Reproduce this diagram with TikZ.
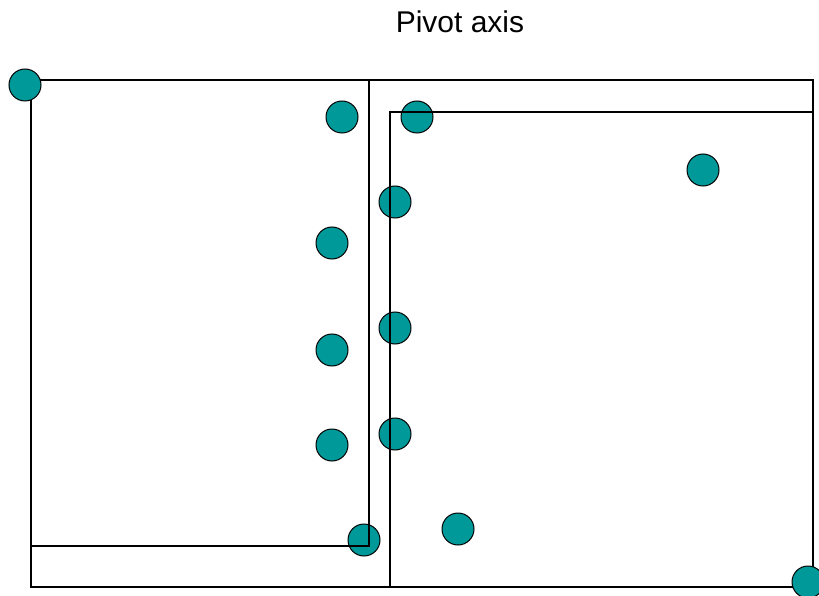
\documentclass[tikz,border=0pt]{standalone}
\usepackage{fontspec}
\setmainfont{Liberation Sans}
\definecolor{tealdot}{RGB}{0,153,153}
\tikzset{
  dot/.style={circle,draw=black,fill=tealdot,line width=1pt,minimum size=32pt,inner sep=0pt},
  frame/.style={draw=black,line width=1.1pt}
}
\begin{document}
\begin{tikzpicture}[x=1pt,y=-1pt]
\useasboundingbox (0,0) rectangle (819,596);
% outer rectangle (beneath the dots)
\draw[frame] (31,80) rectangle (813,587);
% dots
\node[dot] (d1) at (25,85) {};
\node[dot] (d2) at (342,117) {};
\node[dot] (d3) at (417,117) {};
\node[dot] (d4) at (703,170) {};
\node[dot] (d5) at (395,202) {};
\node[dot] (d6) at (332,243) {};
\node[dot] (d7) at (395,328) {};
\node[dot] (d8) at (332,350) {};
\node[dot] (d9) at (332,445) {};
\node[dot] (d10) at (395,434) {};
\node[dot] (d11) at (364,540) {};
\node[dot] (d12) at (458,529) {};
\node[dot] (d13) at (808,582) {};
% inner rectangles (over the dots)
\draw[frame] (31,546) -- (369,546) -- (369,80);
\draw[frame] (390,587) -- (390,112) -- (813,112);
% title
\node[font=\fontsize{30}{34}\selectfont] (title) at (460,22) {Pivot axis};
\end{tikzpicture}
\end{document}
